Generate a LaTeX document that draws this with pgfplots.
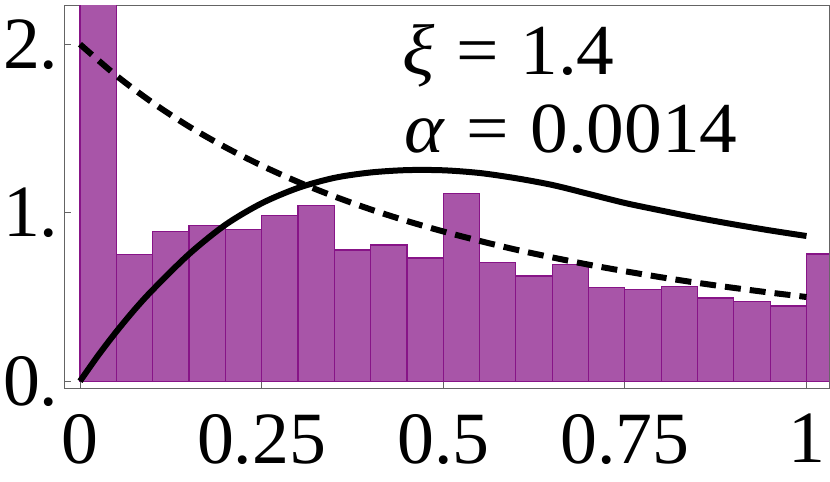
\documentclass[border=0pt]{standalone}
\usepackage{fontspec}
\setmainfont{Liberation Serif}
\newfontfamily\annfont[FakeStretch=1.05]{Liberation Serif}
\usepackage{pgfplots}
\pgfplotsset{compat=1.18}
\definecolor{barfill}{RGB}{168,85,168}
\definecolor{baredge}{RGB}{135,20,135}
\definecolor{framegray}{RGB}{100,100,100}
\begin{document}
\begin{tikzpicture}
\useasboundingbox (0,0) rectangle (830bp,482bp);
\begin{axis}[
  at={(64.5bp,93bp)}, anchor=south west,
  scale only axis, width=764.5bp, height=383bp,
  xmin=-0.0213, xmax=1.031, ymin=-0.046, ymax=2.227,
  axis line style={framegray, line width=1bp},
  tick style={framegray, line width=0.8bp},
  major tick length=7bp,
  xtick pos=bottom, ytick pos=left,
  xtick={0,0.25,0.5,0.75,1}, xticklabels={0,0.25,0.5,0.75,1},
  ytick={0,1,2}, yticklabels={0.,1.,2.},
  /pgf/number format/assume math mode=true,
  xticklabel style={font=\fontsize{74}{78}\selectfont, inner sep=0pt, yshift=-25bp},
  yticklabel style={font=\fontsize{74}{78}\selectfont, inner sep=0pt, xshift=-6bp},
  clip=true,
]
\addplot[ybar interval, fill=barfill, draw=baredge, line width=1.2bp] coordinates {
(0,2.5) (0.05,0.751) (0.1,0.890) (0.15,0.926) (0.2,0.902) (0.25,0.985)
(0.3,1.045) (0.35,0.779) (0.4,0.809) (0.45,0.732) (0.5,1.113) (0.55,0.706)
(0.6,0.625) (0.65,0.694) (0.7,0.556) (0.75,0.546) (0.8,0.561) (0.85,0.494)
(0.9,0.471) (0.95,0.447) (1.0,0.755) (1.05,0.755)
};
\addplot[black, line width=6bp, smooth] coordinates {
(0,0) (0.025,0.153) (0.05,0.294) (0.075,0.424) (0.1,0.542) (0.15,0.754) (0.2,0.928)
(0.25,1.056) (0.3,1.147) (0.35,1.207) (0.4,1.239) (0.45,1.253) (0.5,1.252)
(0.55,1.236) (0.6,1.205) (0.65,1.165) (0.7,1.112) (0.75,1.058) (0.8,1.013)
(0.85,0.970) (0.9,0.931) (0.95,0.895) (1.0,0.862)
};
\addplot[black, line width=6bp, smooth, dash pattern=on 16bp off 9bp] coordinates {
(0,2) (0.05,1.814) (0.1,1.653) (0.15,1.512) (0.2,1.389) (0.25,1.28)
(0.3,1.183) (0.35,1.097) (0.4,1.020) (0.45,0.951) (0.5,0.889) (0.55,0.833)
(0.6,0.781) (0.65,0.735) (0.7,0.692) (0.75,0.653) (0.8,0.617) (0.85,0.584)
(0.9,0.554) (0.95,0.526) (1.0,0.5)
};
\node[anchor=base west, inner sep=0pt, font=\annfont\fontsize{72}{76}\selectfont] at (axis cs:0.444,1.818) {\textit{ξ}\hspace{0.3em}=\hspace{0.3em}1.4};
\node[anchor=base west, inner sep=0pt, font=\annfont\fontsize{72}{76}\selectfont] at (axis cs:0.446,1.356) {\textit{α}\hspace{0.3em}=\hspace{0.3em}0.0014};
\end{axis}
\end{tikzpicture}
\end{document}
